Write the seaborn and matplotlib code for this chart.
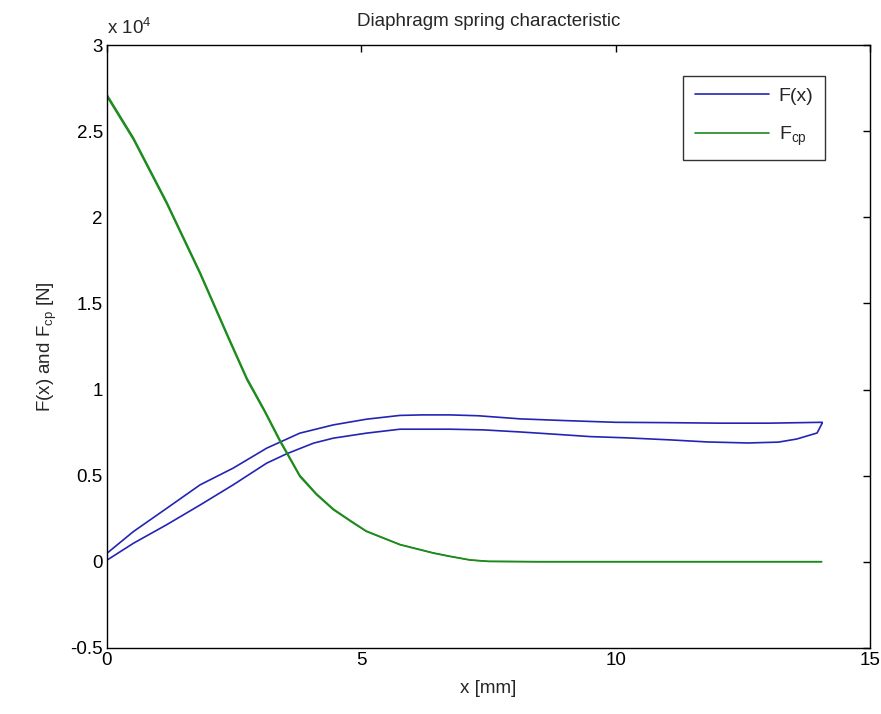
import numpy as np
import pandas as pd
import matplotlib
matplotlib.use("Agg")
import matplotlib.pyplot as plt
import seaborn as sns
from matplotlib.ticker import FuncFormatter
from matplotlib.lines import Line2D

# ---- data (forces in N, displacement in mm) ----
fx_lower_x = [0.0, 0.52, 1.17, 1.83, 2.48, 3.14, 3.53, 4.06, 4.45, 5.10, 5.76, 6.74, 7.4, 8.12, 8.85, 9.5, 10.2, 11.07, 11.8, 12.6, 13.2, 13.56, 13.96, 14.06]
fx_lower_y = [100, 1080, 2150, 3300, 4470, 5730, 6270, 6890, 7180, 7470, 7700, 7700, 7660, 7540, 7400, 7270, 7200, 7080, 6960, 6900, 6950, 7130, 7480, 8050]
fx_upper_x = [14.06, 13.0, 12.05, 11.0, 10.0, 9.0, 8.12, 7.3, 6.74, 6.2, 5.76, 5.10, 4.45, 3.79, 3.14, 2.48, 1.83, 1.17, 0.52, 0.0]
fx_upper_y = [8100, 8050, 8050, 8080, 8100, 8200, 8300, 8480, 8530, 8530, 8500, 8280, 7950, 7470, 6600, 5440, 4470, 3100, 1760, 500]

fcp_x = [0.0, 0.52, 1.17, 1.83, 2.38, 2.75, 3.10, 3.40, 3.53, 3.79, 4.12, 4.45, 4.84, 5.10, 5.76, 6.42, 6.74, 7.14, 7.5, 8.5, 10.0, 12.0, 14.05]
fcp_y1 = [27000, 24500, 20800, 16700, 13000, 10560, 8700, 6980, 6310, 4950, 3890, 3020, 2250, 1760, 990, 500, 310, 100, 20, 0, 0, 0, 0]
fcp_y2 = [27120, 24620, 20920, 16820, 13120, 10680, 8800, 7080, 6400, 5030, 3950, 3070, 2290, 1790, 1010, 520, 330, 115, 35, 15, 15, 15, 15]

blue = "#2424b4"
green = "#1c8a1c"

sns.set_style("white")
plt.rcParams["font.family"] = ["Liberation Sans Narrow", "Liberation Sans", "DejaVu Sans"]
plt.rcParams["mathtext.fontset"] = "custom"
plt.rcParams["mathtext.rm"] = "Liberation Sans"
plt.rcParams["mathtext.it"] = "Liberation Sans"

fig = plt.figure(figsize=(8.81, 7.14), dpi=100)
ax = fig.add_axes([107 / 881, 66 / 714, 763 / 881, 603 / 714])

fx_df = pd.DataFrame({"x": fx_lower_x + fx_upper_x, "F": fx_lower_y + fx_upper_y})
sns.lineplot(data=fx_df, x="x", y="F", sort=False, estimator=None, color=blue, lw=1.2, ax=ax)
cp1 = pd.DataFrame({"x": fcp_x, "F": fcp_y1})
cp2 = pd.DataFrame({"x": fcp_x, "F": fcp_y2})
sns.lineplot(data=cp1, x="x", y="F", sort=False, estimator=None, color=green, lw=1.1, ax=ax)
sns.lineplot(data=cp2, x="x", y="F", sort=False, estimator=None, color=green, lw=1.1, ax=ax)

ax.set_xlim(0, 15)
ax.set_ylim(-5000, 30000)
ax.set_xticks([0, 5, 10, 15])
ax.set_yticks(np.arange(-5000, 30001, 5000))
ax.yaxis.set_major_formatter(FuncFormatter(lambda v, p: f"{v / 1e4:g}"))
ax.tick_params(direction="in", length=5, width=1, top=True, right=True,
               labelsize=13.5, colors="black", pad=3)
for s in ax.spines.values():
    s.set_visible(True)
    s.set_color("black")
    s.set_linewidth(1.0)

ax.set_xlabel("x [mm]", fontsize=13.5, labelpad=8)
ax.set_ylabel(r"F(x) and F$_{\mathrm{cp}}$ [N]", fontsize=13.5, labelpad=8)
ax.set_title("Diaphragm spring characteristic", fontsize=13.5, pad=14)
ax.text(0.0, 1.012, r"x 10$^{4}$", transform=ax.transAxes, fontsize=13.5, ha="left", va="bottom")

handles = [Line2D([], [], color=blue, lw=1.2), Line2D([], [], color=green, lw=1.2)]
leg = ax.legend(handles, ["F(x)", r"F$_{\mathrm{cp}}$"], loc="upper right",
                bbox_to_anchor=(0.941, 0.9486), borderaxespad=0, fontsize=14, frameon=True,
                fancybox=False, edgecolor="black", handlelength=3.8, handletextpad=0.5,
                borderpad=0.6, labelspacing=1.0)
leg.get_frame().set_linewidth(1.0)

fig.savefig("out.png", dpi=100, facecolor="white")
